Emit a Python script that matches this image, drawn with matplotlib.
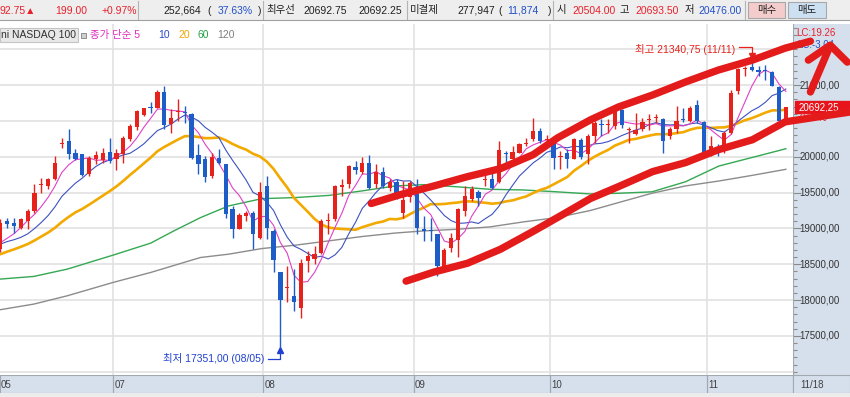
import numpy as np
import pandas as pd
import matplotlib
matplotlib.use('Agg')
import matplotlib.pyplot as plt
from matplotlib.patches import Rectangle
from matplotlib.ticker import MultipleLocator
import matplotlib.transforms as mtransforms

plt.rcParams['font.family'] = ['Liberation Sans', 'Noto Sans CJK KR', 'DejaVu Sans']

# 일봉 데이터 (화면에서 읽은 값)
opens = [18710, 19100, 19080, 19010, 19104, 19244, 19600, 19592, 19684, 20180,
         20218, 20056, 20032, 19754, 19963, 19954, 20065, 19972, 20032, 20241,
         20418, 20575, 20690, 20682, 20905, 20450, 20630, 20630, 20589, 20019,
         19963, 19731, 19986, 19893, 19267, 18998, 19170, 19220, 18863, 19592,
         18965, 18395, 18170, 18051, 17884, 18548, 18580, 18654, 19110, 19128,
         19582, 19615, 19861, 19787, 19916, 19615, 19787, 19568, 19647, 19220,
         19443, 19568, 18998, 18970, 18919, 18408, 18733, 18840, 19244, 19406,
         19508, 19670, 19694, 19647, 20056, 19963, 20056, 20180, 20241, 20357,
         20230, 20204, 20000, 20056, 19972, 20232, 20032, 20288, 20455, 20445,
         20427, 20650, 20375, 20320, 20390, 20515, 20538, 20529, 20288, 20380,
         20515, 20496, 20728, 20483, 20032, 20130, 20102, 20325, 20914, 21220,
         21253, 21216, 21200, 21179, 20970, 20504]
highs = [19128, 19150, 19150, 19150, 19267, 19615, 19708, 19708, 20009, 20264,
         20380, 20102, 20040, 20009, 20079, 20125, 20264, 20102, 20288, 20450,
         20650, 20682, 20761, 20928, 20984, 20659, 20798, 20705, 20603, 20172,
         20009, 20056, 20102, 19893, 19313, 19220, 19244, 19244, 19647, 19731,
         18988, 18395, 18478, 18432, 18571, 18687, 18756, 19128, 19220, 19606,
         19684, 19879, 19940, 20000, 20019, 19893, 19856, 19684, 19684, 19661,
         19661, 19684, 19174, 19151, 18925, 18733, 18942, 19290, 19592, 19592,
         19536, 19800, 19824, 20218, 20079, 20148, 20195, 20264, 20543, 20404,
         20300, 20288, 20079, 20102, 20264, 20264, 20311, 20496, 20520, 20520,
         20650, 20659, 20418, 20603, 20543, 20589, 20589, 20543, 20418, 20705,
         20682, 20705, 20784, 20496, 20288, 20172, 20357, 20937, 21239, 21262,
         21340.75, 21262, 21285, 21192, 20984, 20693.5]
lows = [18664, 19010, 18940, 18990, 18988, 19220, 19499, 19545, 19680, 20125,
        19963, 19954, 19731, 19731, 19893, 19916, 19907, 19814, 19916, 20218,
        20371, 20566, 20613, 20673, 20390, 20334, 20496, 20473, 19963, 19754,
        19647, 19708, 19893, 19151, 18872, 18988, 19104, 18710, 18849, 18849,
        18385, 17351, 17968, 17852, 17745, 18385, 18501, 18640, 18919, 19104,
        19452, 19568, 19754, 19754, 19545, 19568, 19568, 19522, 19406, 19151,
        19369, 18919, 18826, 18826, 18339, 18385, 18664, 18594, 19174, 19383,
        19313, 19592, 19545, 19638, 19870, 19963, 20056, 20148, 20218, 20195,
        20180, 19824, 19833, 19847, 19963, 19963, 19893, 20195, 20288, 20334,
        20380, 20404, 20195, 20297, 20357, 20371, 20473, 20056, 20251, 20334,
        20483, 20483, 20473, 20046, 20009, 20009, 20056, 20311, 20868, 21123,
        21192, 21123, 21076, 20984, 20483, 20476]
closes = [19081, 19060, 19040, 19130, 19244, 19499, 19610, 19684, 19916, 20190,
          20032, 19972, 19740, 19986, 20019, 20056, 19940, 20056, 20255, 20427,
          20636, 20673, 20680, 20905, 20436, 20534, 20640, 20615, 19986, 19893,
          19722, 20000, 19916, 19197, 18988, 19183, 19211, 18919, 19513, 19012,
          18562, 18005, 18180, 17968, 18524, 18617, 18640, 19104, 19118, 19592,
          19606, 19870, 19814, 19916, 19568, 19787, 19592, 19647, 19415, 19392,
          19638, 19012, 18965, 18960, 18478, 18701, 18872, 19276, 19452, 19545,
          19429, 19680, 19568, 20088, 20032, 20070, 20172, 20190, 20357, 20218,
          20240, 19986, 20010, 19972, 20241, 20000, 20288, 20473, 20445, 20455,
          20636, 20436, 20385, 20367, 20483, 20525, 20548, 20218, 20380, 20496,
          20505, 20682, 20496, 20056, 20148, 20120, 20334, 20891, 21225, 21230,
          21216, 21179, 21190, 20993, 20496, 20692.25]
# 화면 왼쪽 밖의 종가 (이동평균 계산용)
pre_closes = [18350, 18400, 18420, 18480, 18500, 18520, 18560, 18580, 18580, 18610,
              18700, 18780, 18800, 18760, 18760, 18750, 18720, 18700, 18750]
day_change = 199.00

# 60일, 120일 이평선 (화면에서 읽은 값)
ma60_x = [0, 4.9, 9.8, 16.5, 22, 25.4, 29.3, 33.4, 38.3, 43.2, 48.1, 52.9, 57.8,
          62, 66.9, 71.7, 76.6, 81.5, 86.4, 90.5, 95.4, 100.3, 105.2, 110.1, 115]
ma60_y = [18293, 18330, 18432, 18627, 18794, 18965, 19150, 19313, 19415, 19430,
          19460, 19522, 19592, 19610, 19580, 19545, 19536, 19510, 19480, 19490,
          19510, 19650, 19870, 19990, 20111]
ma120_x = [0, 4.9, 9.8, 16.5, 22, 29.3, 33.4, 38.3, 43.2, 48.1, 52.9, 57.8, 62,
           66.9, 71.7, 76.6, 81.5, 86.4, 90.5, 95.4, 100.3, 105.2, 110.1, 115]
ma120_y = [17866, 17944, 18060, 18246, 18385, 18594, 18640, 18719, 18766, 18826,
           18886, 18935, 18965, 18988, 19021, 19091, 19151, 19250, 19360, 19490,
           19592, 19661, 19740, 19824]

# 월 구분
month_idx = [17, 39, 61, 81, 104]
month_lbl = ['07', '08', '09', '10', '11']
first_lbl = '05'
last_date = '11/18'
axis_levels = [21000, 20000, 19500, 19000, 18500, 18000, 17500]
grid_levels = [17000, 17500, 18000, 18500, 19000, 19500, 20000, 20500, 21000, 21500]

# 손으로 그린 채널 (캔들 번호, 가격)
upper_x = [54.3, 58.6, 63.4, 68.4, 73.2, 78.0, 81.6, 86.4, 90.5, 95.5, 100.3, 105.1, 110.1, 114.9, 118.6]
upper_y = [19347, 19472, 19590, 19722, 19833, 20028, 20264, 20514, 20694, 20861, 21042, 21208, 21347, 21514, 21611]
lower_x = [59.4, 63.4, 68.4, 73.2, 78.0, 81.6, 86.4, 90.5, 95.5, 100.3, 105.1, 110.1, 114.9, 124.5]
lower_y = [18264, 18389, 18514, 18708, 18958, 19153, 19417, 19583, 19792, 19917, 20097, 20236, 20486, 20625]
arrow_shaft_x = [118.6, 121.4]
arrow_shaft_y = [20903, 21528]
arrow_head_x = [118.3, 121.5, 124.0]
arrow_head_y = [21347, 21556, 21319]

header_items = [('92.75▲', -1, 'r'), ('199.00', 55, 'r'), ('+0.97%', 102, 'r'),
                ('252,664', 163, 'k'), ('(', 207, 'k'), ('37.63%', 218, 'b'), (')', 258, 'k'),
                ('최우선', 266, 'k'), ('20692.75', 303, 'k'), ('20692.25', 358, 'k'),
                ('미결제', 410, 'k'), ('277,947', 457, 'k'), ('(', 498, 'k'), ('11,874', 507, 'b'),
                (')', 548, 'k'), ('시', 557, 'k'), ('20504.00', 572, 'r'), ('고', 620, 'k'),
                ('20693.50', 635, 'r'), ('저', 685, 'k'), ('20476.00', 698, 'b')]
header_div = [138, 263, 407, 553, 745]
legend_items = [('종가 단순 5', 90, '#e02cc0'), ('10', 158, '#2a48c8'), ('20', 178, '#f0a400'),
                ('60', 198, '#22a044'), ('120', 217, '#808080')]

RED = '#e6221c'
BLUE = '#1e5cc8'
STROKE = '#e41b1b'
PANEL = '#d6e0ec'
TXT = {'r': '#e8202a', 'b': '#2050c8', 'k': '#202020'}

W, H = 850, 397
fig = plt.figure(figsize=(W / 100, H / 100), dpi=100)


def box(x0, y0, x1, y1):
    return [x0 / W, 1 - y1 / H, (x1 - x0) / W, (y1 - y0) / H]


ax = fig.add_axes(box(0, 24, 793, 375), zorder=3)
axr = fig.add_axes(box(793, 24, 850, 375), zorder=1)
axb = fig.add_axes(box(0, 375, 793, 393), zorder=1)
axb2 = fig.add_axes(box(793, 375, 850, 393), zorder=1)
ov = fig.add_axes([0, 0, 1, 1], zorder=5)
ov.set_xlim(0, W)
ov.set_ylim(H, 0)
ov.axis('off')

xmin, xmax = -0.05, 116.05
ymin, ymax = 16955, 21851

# 본 차트
ax.set_xlim(xmin, xmax)
ax.set_ylim(ymin, ymax)
ax.set_xticks([])
ax.set_yticks([])
for s in ax.spines.values():
    s.set_visible(False)
for lv in grid_levels:
    ax.axhline(lv, color='#e2e2e2', lw=1.2, zorder=0)
for m in month_idx:
    ax.axvline(m - 0.5, color='#e2e2e2', lw=1.2, zorder=0)

# 이동평균
all_close = pd.Series(pre_closes + closes, dtype=float)
x_all = np.arange(-len(pre_closes), len(closes))
ax.plot(ma120_x, ma120_y, color='#8c8c8c', lw=1.0, zorder=1)
ax.plot(ma60_x, ma60_y, color='#34a852', lw=1.0, zorder=1)
ax.plot(x_all, all_close.rolling(20).mean(), color='#f2a900', lw=1.9, zorder=1)
ax.plot(x_all, all_close.rolling(10).mean(), color='#3c52c0', lw=0.8, zorder=1)
ax.plot(x_all, all_close.rolling(5).mean(), color='#e040c8', lw=0.8, zorder=1)

# 캔들
idx = np.arange(len(closes))
o, h, l, c = map(np.array, (opens, highs, lows, closes))
col = np.where(c >= o, RED, BLUE)
ax.vlines(idx, l, h, colors=col, lw=1.0, zorder=2)
ax.bar(idx, np.maximum(np.abs(c - o), 14), 0.62, bottom=np.minimum(o, c), color=col, zorder=3)

# 최고/최저 표시
hi_i = int(np.argmax(h))
lo_i = int(np.argmin(l))
ax.plot([hi_i - 1.8, hi_i, hi_i], [h[hi_i] + 190, h[hi_i] + 190, h[hi_i] + 80], color=RED, lw=0.9, zorder=4)
ax.plot(hi_i, h[hi_i] + 62, marker='v', color=RED, ms=4, zorder=4)
ax.text(hi_i - 2.4, h[hi_i] + 150, f'최고 {h[hi_i]:.2f} (11/11)'.replace('.', ','), color=RED,
        fontsize=7.5, ha='right', va='center', zorder=4)
ax.plot([lo_i - 1.8, lo_i, lo_i], [l[lo_i] - 170, l[lo_i] - 170, l[lo_i] - 60], color='#2040d0', lw=0.9, zorder=4)
ax.plot(lo_i, l[lo_i] - 45, marker='^', color='#2040d0', ms=4, zorder=4)
ax.text(lo_i - 2.4, l[lo_i] - 170, f'최저 {l[lo_i]:.2f} (08/05)'.replace('.', ','), color='#2040d0',
        fontsize=7.5, ha='right', va='center', zorder=4)

# 손으로 그린 추세선
kw = dict(color=STROKE, lw=5.3, solid_capstyle='round', solid_joinstyle='round', clip_on=False, zorder=10)
ax.plot(upper_x, upper_y, **kw)
ax.plot(lower_x, lower_y, **kw)
ax.plot(arrow_shaft_x, arrow_shaft_y, **kw)
ax.plot(arrow_head_x, arrow_head_y, **kw)

# 오른쪽 가격축
axr.set_facecolor(PANEL)
axr.set_xlim(0, 1)
axr.set_ylim(ymin, ymax)
axr.set_xticks([])
axr.set_yticks(axis_levels)
axr.set_yticklabels([])
axr.yaxis.set_minor_locator(MultipleLocator(100))
axr.tick_params(axis='y', which='major', direction='in', length=6, color='#8a8a8a', width=0.8)
axr.tick_params(axis='y', which='minor', direction='in', length=3, color='#8a8a8a', width=0.8)
for s in ['top', 'right', 'bottom']:
    axr.spines[s].set_visible(False)
axr.spines['left'].set_color('#a0a8b0')
tr = mtransforms.blended_transform_factory(axr.transAxes, axr.transData)
for lv in axis_levels:
    axr.text(0.11, lv, f'{lv:.2f}'.replace('.', ','), transform=tr, fontsize=7,
             color='#333333', va='center', ha='left')
last = closes[-1]
axr.add_patch(Rectangle((0.035, last - 84), 0.965, 168, transform=tr, color='#e8141c', zorder=3))
axr.text(0.1, last, f'{last:.2f}'.replace('.', ','), transform=tr, fontsize=7, color='white',
         va='center', ha='left', zorder=4)
pct = day_change / (last - day_change) * 100
axr.text(0.12, 20545, f'{pct:.2f}%', transform=tr, fontsize=7, color='#e8202a', va='center', ha='left')
axr.text(0.05, 21727, 'LC:19.26', transform=tr, fontsize=7, color='#e8202a', va='center', ha='left')
axr.text(0.07, 21560, 'LC:-3.04', transform=tr, fontsize=7, color='#2050c8', va='center', ha='left')

# 아래 날짜축
for a in (axb, axb2):
    a.set_facecolor(PANEL)
    a.set_xticks([])
    a.set_yticks([])
    a.set_ylim(0, 1)
    for s in a.spines.values():
        s.set_color('#a0a8b0')
        s.set_linewidth(0.8)
axb.set_xlim(xmin, xmax)
axb.text(xmin + 0.1, 0.45, first_lbl, fontsize=7, color='#404040', va='center', ha='left')
for m, lb in zip(month_idx, month_lbl):
    axb.axvline(m - 0.5, color='#a0a8b0', lw=0.9)
    axb.text(m - 0.3, 0.45, lb, fontsize=7, color='#404040', va='center', ha='left')
axb2.set_xlim(0, 1)
axb2.text(0.12, 0.45, last_date, fontsize=7, color='#404040', va='center', ha='left')

# 상단 시세 표시줄
ov.add_patch(Rectangle((0, 0), W, 20, fc='#eeeeee', ec='none'))
ov.plot([0, W], [20, 20], color='#a0a0a0', lw=0.8)
for xd in header_div:
    ov.plot([xd, xd], [1, 19], color='#b4b4b4', lw=0.8)
for t, x, cc in header_items:
    ov.text(x, 10.5, t, fontsize=7.5, color=TXT[cc], va='center', ha='left')
for t, x0, x1, fc in [('매수', 748, 785, '#f4cccc'), ('매도', 788, 826, '#cde0f2')]:
    ov.add_patch(Rectangle((x0, 2), x1 - x0, 16, fc=fc, ec='#a8a8a8', lw=0.8))
    ov.text((x0 + x1) / 2, 10.5, t, fontsize=7.5, color='#202020', va='center', ha='center')
ov.add_patch(Rectangle((0, 393), W, 4, fc='#ececec', ec='none'))

# 범례
ov.add_patch(Rectangle((0, 28), 78, 14, fc='#e8e8e8', ec='#c4c4c4', lw=0.8))
ov.text(1, 35, 'ni NASDAQ 100', fontsize=7.5, color='#303030', va='center', ha='left')
ov.add_patch(Rectangle((81, 32.5), 5, 5, fc='#d0d0d0', ec='#808080', lw=0.6))
for t, x, cc in legend_items:
    ov.text(x, 35, t, fontsize=7.5, color=cc, va='center', ha='left')

fig.savefig('out.png', dpi=100)
